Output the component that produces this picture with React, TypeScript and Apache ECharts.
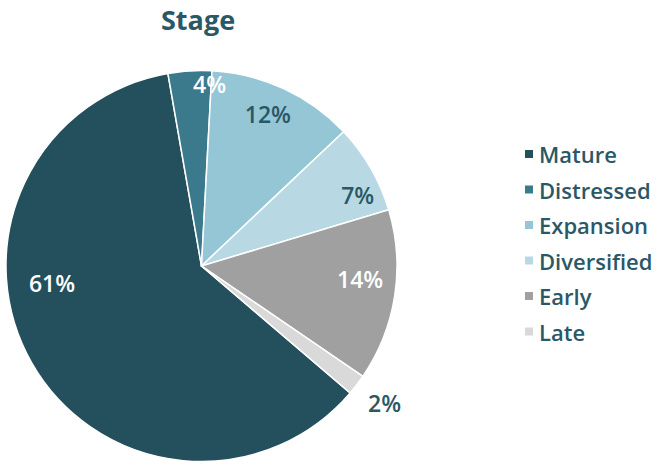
import React, { useEffect, useRef } from "react";
import * as echarts from "echarts";

const categories = ["Mature", "Distressed", "Expansion", "Diversified", "Early", "Late"];
const values = [61.0, 3.6, 12.1, 7.4, 14.2, 1.7];
const colors = ["#244f5c", "#3a7a8c", "#95c6d6", "#b8d9e3", "#a0a0a0", "#d9d9d9"];
const labelColors = ["#ffffff", "#ffffff", "#2b5866", "#2b5866", "#ffffff", "#2b5866"];
// label nudges (px) from the default inside position
const labelDx = [-62, 14, 24, 69, 59, 103];
const labelDy = [-33, -81, -61, -21, -2, 76];

const TEXT = "#2b5866";
const FONT = "'Open Sans', sans-serif";

export default function App() {
  const ref = useRef<HTMLDivElement>(null);
  useEffect(() => {
    document.body.style.margin = "0";
    if (!ref.current) return;
    const chart = echarts.init(ref.current, null, { renderer: "svg" });
    chart.setOption({
      animation: false,
      backgroundColor: "#ffffff",
      title: {
        text: "Stage",
        left: 156,
        top: 1,
        textStyle: { color: TEXT, fontSize: 27, fontWeight: "bold", fontFamily: FONT },
      },
      legend: {
        orient: "vertical",
        left: 518,
        top: 137,
        icon: "rect",
        itemWidth: 10,
        itemHeight: 10,
        itemGap: 11.5,
        data: categories,
        textStyle: { color: TEXT, fontSize: 22, fontFamily: FONT, fontWeight: 600, lineHeight: 24 },
      },
      series: [
        {
          type: "pie",
          center: [201.5, 266],
          radius: 195.5,
          startAngle: -40.5,
          clockwise: true,
          avoidLabelOverlap: false,
          itemStyle: { borderColor: "#ffffff", borderWidth: 1.5 },
          label: {
            show: true,
            position: "inside",
            fontFamily: FONT,
            fontSize: 23,
            fontWeight: 600,
            formatter: (p: any) => Math.round(p.value) + "%",
          },
          labelLine: { show: false },
          labelLayout: (p: any) => ({ dx: labelDx[p.dataIndex], dy: labelDy[p.dataIndex] }),
          emphasis: { disabled: true },
          data: categories.map((name, i) => ({
            name,
            value: values[i],
            itemStyle: { color: colors[i] },
            label: { color: labelColors[i] },
          })),
        },
      ],
    });
    return () => chart.dispose();
  }, []);
  return <div ref={ref} style={{ width: 661, height: 465 }} />;
}
